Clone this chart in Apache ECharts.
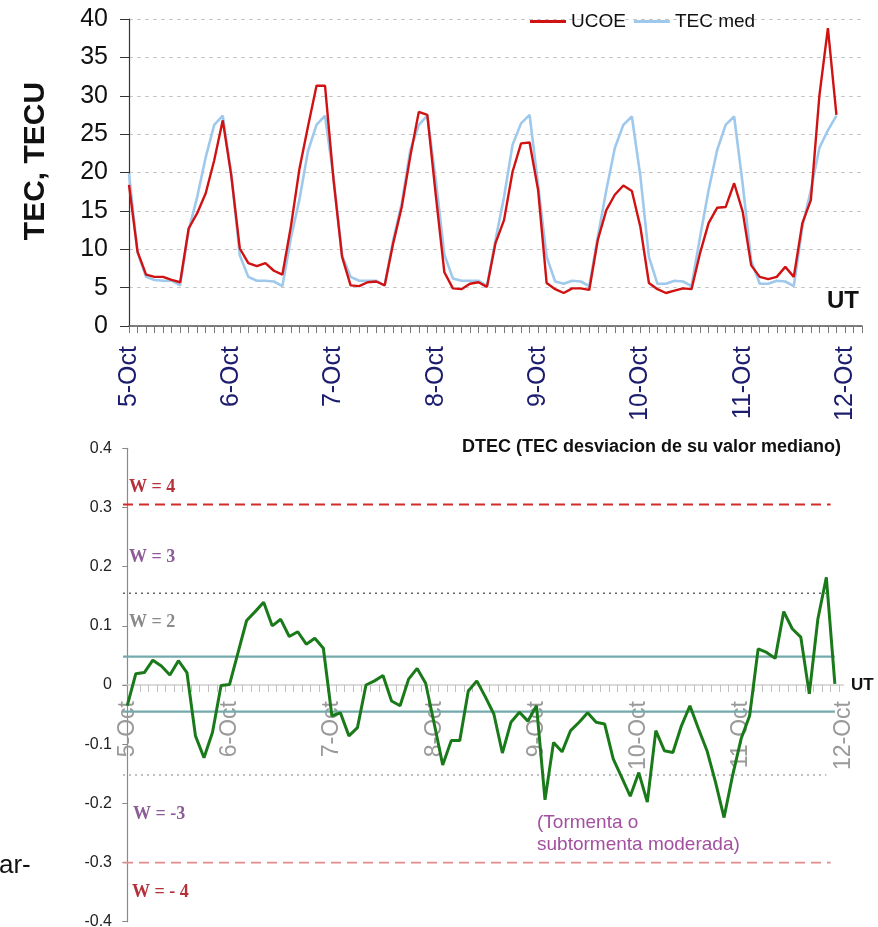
<!DOCTYPE html>
<html><head><meta charset="utf-8">
<script src="https://cdn.jsdelivr.net/npm/echarts@6/dist/echarts.min.js"></script>
<style>html,body{margin:0;padding:0;background:#fff}#c{width:878px;height:927px}</style>
</head><body><div id="c"></div>
<script>
// ---- data ----
const dayLabels = ['5-Oct','6-Oct','7-Oct','8-Oct','9-Oct','10-Oct','11-Oct','12-Oct'];
const stepHours = 2;
const ucoe = [
 18.4, 9.7, 6.7, 6.4, 6.4, 6.0, 5.7, 12.7, 14.7, 17.3, 21.6, 26.8,
 19.6, 10.1, 8.2, 7.8, 8.2, 7.2, 6.7, 13.0, 20.5, 26.0, 31.3, 31.3,
 19.0, 9.0, 5.3, 5.2, 5.7, 5.8, 5.3, 10.8, 15.5, 22.1, 27.9, 27.5,
 17.0, 7.0, 4.9, 4.8, 5.5, 5.7, 5.1, 10.8, 13.8, 20.1, 23.8, 23.9,
 17.7, 5.6, 4.8, 4.3, 4.9, 4.9, 4.7, 11.2, 15.1, 17.1, 18.3, 17.6,
 12.9, 5.6, 4.8, 4.3, 4.6, 4.9, 4.8, 9.5, 13.4, 15.4, 15.5, 18.6,
 14.9, 7.9, 6.4, 6.1, 6.4, 7.7, 6.4, 13.4, 16.4, 30.0, 38.8, 27.5
];
const tecMed = [
 19.9, 9.6, 6.4, 6.0, 5.9, 5.9, 5.3, 12.5, 16.8, 22.0, 26.2, 27.4,
 19.8, 9.2, 6.4, 5.9, 5.9, 5.8, 5.2, 11.5, 16.5, 22.8, 26.2, 27.4,
 19.3, 9.2, 6.4, 5.9, 5.9, 5.9, 5.3, 11.2, 16.0, 22.9, 26.2, 27.4,
 19.0, 9.3, 6.2, 5.9, 5.9, 5.9, 5.2, 11.2, 16.8, 23.6, 26.4, 27.5,
 18.4, 9.0, 5.8, 5.5, 5.9, 5.8, 5.2, 11.6, 17.7, 23.2, 26.2, 27.3,
 19.5, 9.0, 5.5, 5.5, 5.9, 5.8, 5.2, 11.6, 17.7, 22.9, 26.2, 27.3,
 18.5, 8.5, 5.5, 5.5, 5.9, 5.8, 5.2, 12.9, 17.7, 23.2, 25.5, 27.4
];
const dtec = [
 -0.035, 0.019, 0.021, 0.042, 0.032, 0.017, 0.041, 0.021, -0.086, -0.123, -0.080, -0.001,
 0.001, 0.055, 0.109, 0.124, 0.140, 0.100, 0.111, 0.082, 0.090, 0.069, 0.079, 0.062,
 -0.052, -0.047, -0.086, -0.072, 0.000, 0.007, 0.016, -0.027, -0.035, 0.010, 0.028, 0.003,
 -0.065, -0.135, -0.094, -0.094, -0.010, 0.007, -0.020, -0.049, -0.115, -0.063, -0.046, -0.061,
 -0.035, -0.194, -0.097, -0.113, -0.077, -0.063, -0.047, -0.063, -0.066, -0.125, -0.156, -0.188,
 -0.148, -0.198, -0.077, -0.111, -0.114, -0.069, -0.035, -0.074, -0.111, -0.164, -0.224, -0.153,
 -0.091, -0.052, 0.061, 0.055, 0.045, 0.124, 0.095, 0.081, -0.015, 0.111, 0.182, 0.002
];
const levelValues = [0.305, 0.155, 0.048, -0.045, -0.152, -0.300];
const levelLabels = ['W = 4', 'W = 3', 'W = 2', 'W = -3', 'W = - 4'];
const seriesNames = ['UCOE', 'TEC med'];

// ---- helpers ----
const FONT = '"Liberation Sans", Arial, sans-serif';
const SERIF = '"Liberation Serif", "DejaVu Serif", serif';
const toXY = arr => arr.map((v, i) => [i * stepHours, v]);
const range = (a, b, s) => { const r = []; for (let v = a; v <= b + 1e-9; v += s) r.push(v); return r; };
const dayHours = dayLabels.map((d, k) => k * 24);
const dayFmt = v => dayLabels[Math.round(v / 24)] || '';

const levelStyles = [
  { color: '#d42a2a', type: [10, 6], width: 1.8, x1: 165 },
  { color: '#666666', type: [2, 4], width: 1.5, x1: 164 },
  { color: '#74aaac', type: 'solid', width: 2.2, x1: 166 },
  { color: '#74aaac', type: 'solid', width: 2.2, x1: 166 },
  { color: '#aaaaaa', type: [2, 4], width: 1.5, x1: 164 },
  { color: '#e08c8c', type: [10, 6], width: 1.8, x1: 165 }
];

// bottom panel geometry (y = 0.4 at top, -0.4 at bottom)
const B_TOP = 448.3, B_H = 473.4, B_LEFT = 123, B_W = 720.4;

const chart = echarts.init(document.getElementById('c'), null, { renderer: 'canvas' });
const levelSeries = levelValues.map((v, k) => ({
  type: 'line', xAxisIndex: 1, yAxisIndex: 1, symbol: 'none', silent: true,
  data: [[-1, v], [levelStyles[k].x1, v]],
  lineStyle: { color: levelStyles[k].color, type: levelStyles[k].type, width: levelStyles[k].width },
  z: 1
}));

const wText = (txt, left, top, color) => ({
  type: 'text', left, top,
  style: { text: txt, fill: color, font: 'bold 18px ' + SERIF }
});

chart.setOption({
  animation: false,
  backgroundColor: '#fff',
  textStyle: { fontFamily: FONT },
  legend: {
    data: seriesNames, left: 525, top: 7, icon: 'rect', itemWidth: 36, itemHeight: 3, itemGap: 8,
    textStyle: { fontSize: 19, color: '#111', fontFamily: FONT }
  },
  grid: [
    { left: 129, top: 19, width: 733, height: 307, outerBoundsMode: 'none', containLabel: false },
    { left: B_LEFT, top: B_TOP, width: B_W, height: B_H, outerBoundsMode: 'none', containLabel: false },
    // upper half of the bottom panel: its bottom edge is the zero line, used for the date axis
    { left: B_LEFT, top: B_TOP, width: B_W, height: B_H / 2, outerBoundsMode: 'none', containLabel: false }
  ],
  xAxis: [
    {
      type: 'value', gridIndex: 0, min: 0, max: 172,
      axisLine: { lineStyle: { color: '#555', width: 1.5 } },
      axisTick: { customValues: range(0, 172, 2), length: 7, lineStyle: { color: '#777' } },
      axisLabel: { customValues: dayHours, formatter: dayFmt, rotate: 90, margin: 20,
        color: '#1c1c6e', fontSize: 25, fontFamily: FONT },
      splitLine: { show: false }
    },
    {
      type: 'value', gridIndex: 1, min: -1, max: 168,
      axisLine: { show: false }, axisTick: { show: false }, axisLabel: { show: false },
      splitLine: { show: false }
    },
    {
      type: 'value', gridIndex: 2, min: -1, max: 168, position: 'bottom',
      axisLine: { onZero: false, lineStyle: { color: '#d0d0d0', width: 1.5 } },
      axisTick: { customValues: range(1, 167, 2), length: 7, lineStyle: { color: '#c0c0c0' } },
      axisLabel: { customValues: dayHours, formatter: dayFmt, rotate: 90, margin: 16,
        color: '#9a9a9a', fontSize: 23, fontFamily: FONT },
      splitLine: { show: false }
    }
  ],
  yAxis: [
    {
      type: 'value', gridIndex: 0, min: 0, max: 40, interval: 5,
      axisLine: { show: true, lineStyle: { color: '#333', width: 1.2 } },
      axisTick: { show: true, length: 9, lineStyle: { color: '#333' } },
      axisLabel: { fontSize: 25, color: '#111', margin: 21, fontFamily: FONT },
      splitLine: { show: true, lineStyle: { color: '#c8c8c8', type: [4, 4], width: 1 } }
    },
    {
      type: 'value', gridIndex: 1, min: -0.4, max: 0.4, interval: 0.1,
      axisLine: { show: true, lineStyle: { color: '#8a8a8a', width: 1.2 } },
      axisTick: { show: true, length: 5, lineStyle: { color: '#8a8a8a' } },
      axisLabel: { fontSize: 16, color: '#222', margin: 11, fontFamily: FONT,
        formatter: v => Math.abs(v) < 1e-9 ? '0' : v.toFixed(1) },
      splitLine: { show: false }
    },
    {
      type: 'value', gridIndex: 2, min: 0, max: 0.4, show: false
    }
  ],
  series: [
    { name: 'TEC med', type: 'line', xAxisIndex: 0, yAxisIndex: 0, symbol: 'none',
      data: toXY(tecMed), lineStyle: { color: '#9fc9ec', width: 2.6 }, itemStyle: { color: '#9fc9ec' }, z: 2 },
    { name: 'UCOE', type: 'line', xAxisIndex: 0, yAxisIndex: 0, symbol: 'none',
      data: toXY(ucoe), lineStyle: { color: '#d01212', width: 2.4 }, itemStyle: { color: '#d01212' }, z: 3 },
    ...levelSeries,
    { name: 'DTEC', type: 'line', xAxisIndex: 1, yAxisIndex: 1, symbol: 'none',
      data: toXY(dtec), lineStyle: { color: '#1a7a1a', width: 3 }, z: 5 }
  ],
  graphic: [
    { type: 'text', x: 36, y: 161, rotation: Math.PI / 2,
      style: { text: 'TEC, TECU', fill: '#111', font: 'bold 30px ' + FONT, textAlign: 'center', textVerticalAlign: 'middle' } },
    { type: 'text', left: 827, top: 289, style: { text: 'UT', fill: '#111', font: 'bold 24px ' + FONT } },
    { type: 'text', left: 462, top: 438, style: { text: 'DTEC (TEC desviacion de su valor mediano)', fill: '#111', font: 'bold 18px ' + FONT } },
    { type: 'text', left: 851, top: 677, style: { text: 'UT', fill: '#111', font: 'bold 17px ' + FONT } },
    wText(levelLabels[0], 129, 478, '#b5313a'),
    wText(levelLabels[1], 129, 548, '#8c5c98'),
    wText(levelLabels[2], 129, 613, '#8a8a8a'),
    wText(levelLabels[3], 133, 805, '#8c5c98'),
    wText(levelLabels[4], 132, 883, '#b5313a'),
    { type: 'text', left: 537, top: 812, style: { text: '(Tormenta o\nsubtormenta moderada)', fill: '#a2509f',
      font: '19px ' + FONT, lineHeight: 22 } },
    { type: 'text', left: -1, top: 853, style: { text: 'ar-', fill: '#111', font: '26px ' + FONT } }
  ]
});
</script></body></html>
